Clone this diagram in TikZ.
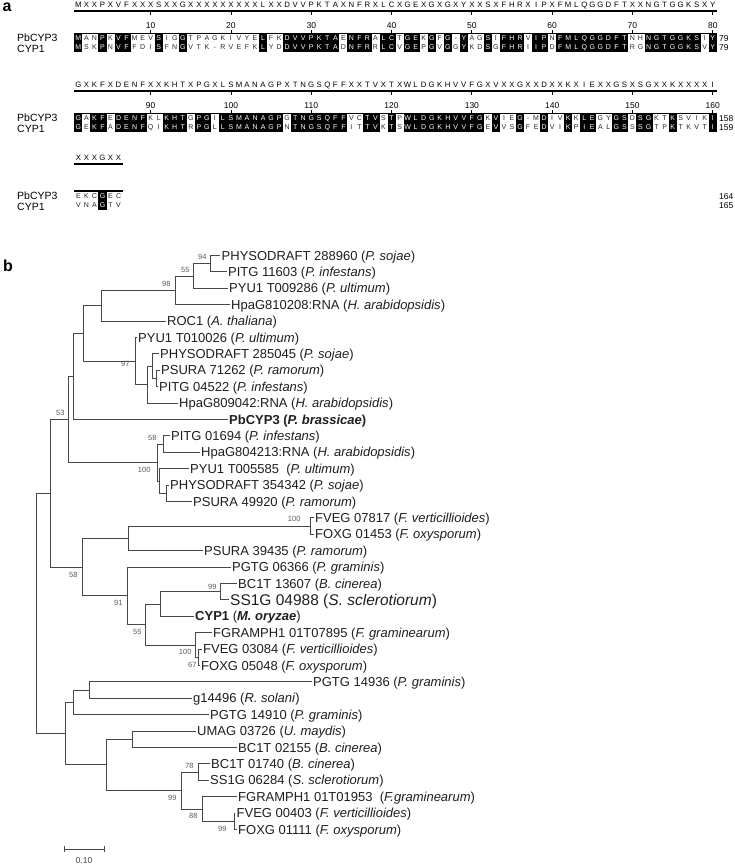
\documentclass[tikz,border=0pt]{standalone}
\usepackage{fontspec}
\setmainfont{Liberation Sans}
\usetikzlibrary{calc}
\def\Xsym{X}
\newcommand\alnrow[4]{% #1 consensus y, #2 cell top y, #3 name prefix, #4 list
  \foreach \csym/\psym/\qsym [count=\i] in {#4} {
    \pgfmathsetmacro\xc{78.4+(\i-1)*8.03}
    \edef\tmpsym{\csym}
    \node[cons] (#3c\i) at (\xc,#1) {\csym};
    \ifx\tmpsym\Xsym
      \node[res,text=black!85] (#3p\i) at (\xc,{#2+4.3}) {\psym};
      \node[res,text=black!85] (#3q\i) at (\xc,{#2+13.4}) {\qsym};
    \else
      \fill[black] ({\xc-4.02},#2) rectangle ({\xc+4.02},{#2+8.6});
      \fill[black] ({\xc-4.02},{#2+9.1}) rectangle ({\xc+4.02},{#2+17.7});
      \node[res,text=white] (#3p\i) at (\xc,{#2+4.3}) {\psym};
      \node[res,text=white] (#3q\i) at (\xc,{#2+13.4}) {\qsym};
    \fi
  }}
\begin{document}
\begin{tikzpicture}[x=1pt,y=-1pt,
  br/.style={draw=black!72,line width=0.85pt},
  lf/.style={anchor=west,inner sep=1.5pt,text height=9pt,text depth=0pt,font=\fontsize{13}{13}\selectfont,text=black!88},
  bs/.style={anchor=east,inner sep=0.3pt,font=\fontsize{7.5}{7.5}\selectfont,text=black!65},
  res/.style={inner sep=0pt,text height=5pt,text depth=0pt,font=\fontsize{7}{7}\selectfont},
  cons/.style={inner sep=0pt,text height=5.4pt,text depth=0pt,font=\fontsize{7.8}{7.8}\selectfont},
  num/.style={inner sep=0pt,text height=6pt,text depth=0pt,font=\fontsize{8.5}{8.5}\selectfont},
  endnum/.style={anchor=west,inner sep=0pt,text height=6pt,text depth=0pt,font=\fontsize{8.5}{8.5}\selectfont},
  seqlab/.style={anchor=west,inner sep=0pt,text height=7.5pt,text depth=0pt,font=\fontsize{10.5}{10.5}\selectfont},
  rule/.style={line width=1.2pt},
  tick/.style={line width=0.9pt},
  panel/.style={inner sep=0pt,font=\fontsize{16}{16}\selectfont\bfseries}]
\fill[white] (0,0) rectangle (735,868);
\useasboundingbox (0,0) rectangle (735,868);

% ================= panel a =================
\node[panel] (pa) at (7,7) {a};

% row 1
\draw[rule] (74.4,11) -- (716.8,11);
\draw[rule] (74.4,33.5) -- (716.8,33.5);
\foreach \k in {10,20,...,80} {
  \draw[tick] ({78.4+(\k-1)*8.03},11) -- ++(0,4);
  \draw[tick] ({78.4+(\k-1)*8.03},33.5) -- ++(0,-4);
  \node[num] (na\k) at ({78.4+(\k-1)*8.03},25) {\k};
}
\alnrow{5}{34}{ra}{M/M/M, X/A/S, X/N/K, P/P/P, X/K/N, V/V/V, F/F/F, X/M/F, X/E/D, X/V/I, S/S/S, X/I/F, X/G/N, G/G/G, X/T/V, X/P/T, X/A/K, X/G/-, X/K/R, X/I/V, X/V/E, X/Y/F, X/E/K, L/L/L, X/F/Y, X/K/D, D/D/D, V/V/V, V/V/V, P/P/P, K/K/K, T/T/T, A/A/A, X/E/D, N/N/N, F/F/F, R/R/R, X/A/R, L/L/L, C/C/C, X/T/V, G/G/G, E/E/E, X/K/P, G/G/G, X/F/V, G/G/G, X/-/G, Y/Y/Y, X/A/K, X/G/D, S/S/S, X/I/G, F/F/F, H/H/H, R/R/R, X/V/I, I/I/I, P/P/P, X/N/D, F/F/F, M/M/M, L/L/L, Q/Q/Q, G/G/G, G/G/G, D/D/D, F/F/F, T/T/T, X/N/R, X/H/G, N/N/N, G/G/G, T/T/T, G/G/G, G/G/G, K/K/K, S/S/S, X/I/V, Y/Y/Y}
\node[seqlab] (sa1) at (17,37.6) {PbCYP3};
\node[seqlab] (sa2) at (17,48.3) {CYP1};
\node[endnum] (ea1) at (719,38.3) {79};
\node[endnum] (ea2) at (719,47.4) {79};

% row 2
\draw[rule] (74.4,91) -- (716.8,91);
\draw[rule] (74.4,113.5) -- (716.8,113.5);
\foreach \k/\lab in {10/90,20/100,30/110,40/120,50/130,60/140,70/150,80/160} {
  \draw[tick] ({78.4+(\k-1)*8.03},91) -- ++(0,4);
  \draw[tick] ({78.4+(\k-1)*8.03},113.5) -- ++(0,-4);
  \node[num] (nb\k) at ({78.4+(\k-1)*8.03},105) {\lab};
}
\alnrow{85}{114}{rb}{G/G/G, X/A/E, K/K/K, F/F/F, X/E/A, D/D/D, E/E/E, N/N/N, F/F/F, X/K/Q, X/L/I, K/K/K, H/H/H, T/T/T, X/G/R, P/P/P, G/G/G, X/I/L, L/L/L, S/S/S, M/M/M, A/A/A, N/N/N, A/A/A, G/G/G, P/P/P, X/G/N, T/T/T, N/N/N, G/G/G, S/S/S, Q/Q/Q, F/F/F, F/F/F, X/V/I, X/C/T, T/T/T, V/V/V, X/S/K, T/T/T, X/P/S, W/W/W, L/L/L, D/D/D, G/G/G, K/K/K, H/H/H, V/V/V, V/V/V, F/F/F, G/G/G, X/K/E, V/V/V, X/I/V, X/E/S, G/G/G, X/-/F, X/M/E, D/D/D, X/I/V, X/V/I, K/K/K, X/K/P, I/L/I, E/E/E, X/G/A, X/Y/L, G/G/G, S/S/S, X/D/S, S/S/S, G/G/G, X/K/T, X/T/P, K/K/K, X/S/T, X/V/K, X/I/V, X/K/T, I/I/I}
\node[seqlab] (sb1) at (17,117.6) {PbCYP3};
\node[seqlab] (sb2) at (17,128.3) {CYP1};
\node[endnum] (eb1) at (719,118.3) {158};
\node[endnum] (eb2) at (719,127.4) {159};

% row 3
\draw[rule] (74.4,164) -- (122.6,164);
\draw[rule] (74.4,191) -- (122.6,191);
\alnrow{158}{192}{rc}{X/E/V, X/K/N, X/C/A, G/G/G, X/E/T, X/C/V}
\node[seqlab] (sc1) at (17,195.6) {PbCYP3};
\node[seqlab] (sc2) at (17,206.3) {CYP1};
\node[endnum] (ec1) at (719,196.3) {164};
\node[endnum] (ec2) at (719,205.4) {165};

% ================= panel b =================
\node[panel] (pb) at (8,266) {b};

\node[lf] (l1) at (220,255.5) {PHYSODRAFT 288960 (\textit{P. sojae})};
\node[lf] (l2) at (226.5,271.9) {PITG 11603 (\textit{P. infestans})};
\node[lf] (l3) at (227.5,288.3) {PYU1 T009286 (\textit{P. ultimum})};
\node[lf] (l4) at (229.5,304.7) {HpaG810208:RNA (\textit{H. arabidopsidis})};
\node[lf] (l5) at (165.5,321.1) {ROC1 (\textit{A. thaliana})};
\node[lf] (l6) at (136.5,337.5) {PYU1 T010026 (\textit{P. ultimum})};
\node[lf] (l7) at (158.5,353.9) {PHYSODRAFT 285045 (\textit{P. sojae})};
\node[lf] (l8) at (159.5,370.3) {PSURA 71262 (\textit{P. ramorum})};
\node[lf] (l9) at (157.5,386.7) {PITG 04522 (\textit{P. infestans})};
\node[lf] (l10) at (177.5,403.1) {HpaG809042:RNA (\textit{H. arabidopsidis})};
\node[lf] (l11) at (227.5,419.5) {\textbf{PbCYP3 (\textit{P. brassicae})}};
\node[lf] (l12) at (169.5,435.9) {PITG 01694 (\textit{P. infestans})};
\node[lf] (l13) at (199.5,452.3) {HpaG804213:RNA (\textit{H. arabidopsidis})};
\node[lf] (l14) at (188.5,468.7) {PYU1 T005585~ (\textit{P. ultimum})};
\node[lf] (l15) at (168.5,485.1) {PHYSODRAFT 354342 (\textit{P. sojae})};
\node[lf] (l16) at (191.5,501.5) {PSURA 49920 (\textit{P. ramorum})};
\node[lf] (l17) at (313.5,517.9) {FVEG 07817 (\textit{F. verticillioides})};
\node[lf] (l18) at (313.5,534.3) {FOXG 01453 (\textit{F. oxysporum})};
\node[lf] (l19) at (202.5,550.7) {PSURA 39435 (\textit{P. ramorum})};
\node[lf] (l20) at (230.5,567.1) {PGTG 06366 (\textit{P. graminis})};
\node[lf] (l21) at (236.5,583.5) {BC1T 13607 (\textit{B. cinerea})};
\node[lf,text height=11pt,font=\fontsize{15.5}{15.5}\selectfont] (l22) at (228.5,599.9) {SS1G 04988 (\textit{S. sclerotiorum})};
\node[lf] (l23) at (193.5,616.3) {\textbf{CYP1} (\textbf{\textit{M. oryzae}})};
\node[lf] (l24) at (211.5,632.7) {FGRAMPH1 01T07895 (\textit{F. graminearum})};
\node[lf] (l25) at (201.5,649.1) {FVEG 03084 (\textit{F. verticillioides})};
\node[lf] (l26) at (199.5,665.5) {FOXG 05048 (\textit{F. oxysporum})};
\node[lf] (l27) at (311.5,681.9) {PGTG 14936 (\textit{P. graminis})};
\node[lf] (l28) at (191.5,698.3) {g14496 (\textit{R. solani})};
\node[lf] (l29) at (208.5,714.7) {PGTG 14910 (\textit{P. graminis})};
\node[lf] (l30) at (195.5,731.1) {UMAG 03726 (\textit{U. maydis})};
\node[lf] (l31) at (236.5,747.5) {BC1T 02155 (\textit{B. cinerea})};
\node[lf] (l32) at (209.5,763.9) {BC1T 01740 (\textit{B. cinerea})};
\node[lf] (l33) at (208.5,780.3) {SS1G 06284 (\textit{S. sclerotiorum})};
\node[lf] (l34) at (236.5,796.7) {FGRAMPH1 01T01953~ (\textit{F.graminearum})};
\node[lf] (l35) at (235,813.1) {FVEG 00403 (\textit{F. verticillioides})};
\node[lf] (l36) at (236.5,829.5) {FOXG 01111 (\textit{F. oxysporum})};

\coordinate (A) at (210,263.7);
\coordinate (B) at (193,276);
\coordinate (C) at (175,290.35);
\coordinate (D) at (101,305.7);
\coordinate (H) at (156,378.5);
\coordinate (G) at (152,366.2);
\coordinate (F) at (147,384.65);
\coordinate (E) at (135,361.1);
\coordinate (I) at (83,333.4);
\coordinate (J) at (73,376.45);
\coordinate (R) at (163,444.1);
\coordinate (U) at (166,493.3);
\coordinate (T) at (159,481);
\coordinate (S) at (157,462.55);
\coordinate (L) at (68,419.5);
\coordinate (Y) at (310,526.1);
\coordinate (W) at (128,538.4);
\coordinate (AC) at (220,591.7);
\coordinate (AA) at (160,604);
\coordinate (AD) at (198,657.3);
\coordinate (AB) at (195,645);
\coordinate (Z) at (145,624.5);
\coordinate (X) at (127,595.8);
\coordinate (V) at (82,567.1);
\coordinate (N) at (50,493.3);
\coordinate (AG) at (89,690.1);
\coordinate (AF) at (73,702.4);
\coordinate (AI) at (132,739.3);
\coordinate (AK) at (198,772.1);
\coordinate (AM) at (234,821.3);
\coordinate (AL) at (202,809);
\coordinate (AJ) at (181,790.55);
\coordinate (AH) at (106,764.9);
\coordinate (AE) at (65,733.65);
\coordinate (O) at (36,613.5);

\foreach \p/\q in {A/l1.west, A/l2.west, B/A, B/l3.west, C/B, C/l4.west, D/C, D/l5.west,
  H/l8.west, H/l9.west, G/l7.west, G/H, F/G, F/l10.west, E/l6.west, E/F, I/D, I/E, J/I, J/l11.west,
  R/l12.west, R/l13.west, U/l15.west, U/l16.west, T/l14.west, T/U, S/R, S/T, L/J, L/S,
  Y/l17.west, Y/l18.west, W/Y, W/l19.west, AC/l21.west, AC/l22.west, AA/AC, AA/l23.west,
  AD/l25.west, AD/l26.west, AB/l24.west, AB/AD, Z/AA, Z/AB, X/l20.west, X/Z, V/W, V/X, N/L, N/V,
  AG/l27.west, AG/l28.west, AF/AG, AF/l29.west, AI/l30.west, AI/l31.west, AK/l32.west, AK/l33.west,
  AM/l35.west, AM/l36.west, AL/l34.west, AL/AM, AJ/AK, AJ/AL, AH/AI, AH/AJ, AE/AF, AE/AH, O/N, O/AE}
  {\draw[br] (\p) |- (\q);}

% bootstrap values
\path (A) ++(-3,-6.5) node[bs] (b94) {94};
\path (B) ++(-3,-6) node[bs] (b55a) {55};
\path (C) ++(-4,-6) node[bs] (b98) {98};
\path (E) ++(-5,3) node[bs] (b97) {97};
\path (L) ++(-3,-7) node[bs] (b53) {53};
\path (R) ++(-6,-6) node[bs] (b58a) {58};
\path (S) ++(-6,7.5) node[bs] (b100a) {100};
\path (Y) ++(-9,-7) node[bs] (b100b) {100};
\path (V) ++(-4,8) node[bs] (b58b) {58};
\path (X) ++(-4,7) node[bs] (b91) {91};
\path (Z) ++(-3,7.5) node[bs] (b55b) {55};
\path (AC) ++(-3,-5) node[bs] (b99a) {99};
\path (AD) ++(-6,-5) node[bs] (b100c) {100};
\path (AD) ++(-1,8) node[bs] (b67) {67};
\path (AK) ++(-4,-6) node[bs] (b78) {78};
\path (AJ) ++(-4,7) node[bs] (b99b) {99};
\path (AL) ++(-4,7) node[bs] (b88) {88};
\path (AM) ++(-7,8) node[bs] (b99c) {99};

% scale bar
\coordinate (s1) at (64,849);
\coordinate (s2) at (104,849);
\draw[br] (s1) -- (s2);
\draw[br] (s1) ++(0,-3) -- ++(0,6);
\draw[br] (s2) ++(0,-3) -- ++(0,6);
\node[inner sep=0pt,font=\fontsize{8.5}{8.5}\selectfont,text=black!75] (sl) at (84,861) {0.10};
\end{tikzpicture}
\end{document}
